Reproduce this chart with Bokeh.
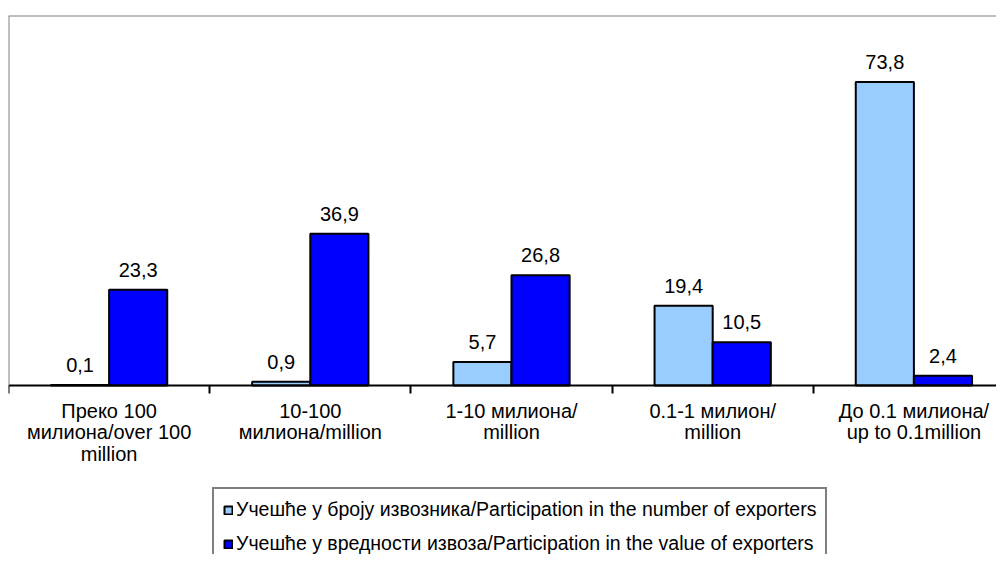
from bokeh.plotting import figure
from bokeh.models import (ColumnDataSource, Range1d, FixedTicker, Span, Legend,
                          LegendItem, LabelSet)
from bokeh.core.properties import value
from bokeh.embed import file_html
from bokeh.resources import INLINE

categories = ["Преко 100\nмилиона/over 100\nmillion",
              "10-100\nмилиона/million",
              "1-10 милиона/\nmillion",
              "0.1-1 милион/\nmillion",
              "До 0.1 милиона/\nup to 0.1million"]
share_count = [0.1, 0.9, 5.7, 19.4, 73.8]
share_value = [23.3, 36.9, 26.8, 10.5, 2.4]
series_names = ["Учешће у броју извозника/Participation in the number of exporters",
                "Учешће у вредности извоза/Participation in the value of exporters"]
colors = ["#99CCFF", "#0000FF"]
y_max = 90

FONT = "Liberation Sans"
n = len(categories)
centers = [i + 0.5 for i in range(n)]
bw = 0.289
W, H = 996, 554
TOP, BASE = 15, 385          # frame top and baseline (px)
unit = (BASE - TOP) / y_max  # px per %

def fmt(v):
    return f"{v:.1f}".replace(".", ",")

src1 = ColumnDataSource(dict(x=[c - bw / 2 for c in centers], y=share_count,
                             lab=[fmt(v) for v in share_count]))
src2 = ColumnDataSource(dict(x=[c + bw / 2 for c in centers], y=share_value,
                             lab=[fmt(v) for v in share_value]))

p = figure(width=W, height=H, x_range=Range1d(0, (W - 8) / 201.2),
           y_range=Range1d(-(H - BASE) / unit, y_max),
           output_backend="svg", toolbar_location=None, title=None,
           min_border_left=8, min_border_right=0, min_border_top=TOP, min_border_bottom=0)
p.outline_line_color = None
p.xgrid.visible = False
p.ygrid.visible = False

r1 = p.vbar(x="x", top="y", width=bw, source=src1, fill_color=colors[0],
            line_color="black", line_width=2)
r2 = p.vbar(x="x", top="y", width=bw, source=src2, fill_color=colors[1],
            line_color="black", line_width=2)

for s in (src1, src2):
    p.add_layout(LabelSet(x="x", y="y", text="lab", source=s, text_align="center",
                          text_baseline="middle", y_offset=20,
                          text_font=value(FONT), text_font_size="20px", text_color="black"))

p.add_layout(Span(location=y_max, dimension="width", line_color="#808080", line_width=2))

# left frame line as a y axis bounded to the plotted range
ya = p.yaxis[0]
ya.fixed_location = 0
ya.bounds = (0, y_max)
ya.ticker = FixedTicker(ticks=[])
ya.major_tick_out = 0
ya.major_tick_in = 0
ya.minor_tick_out = 0
ya.minor_tick_in = 0
ya.major_label_text_font_size = "0px"
ya.axis_line_color = "#808080"
ya.axis_line_width = 2

ax = p.xaxis[0]
ax.fixed_location = 0
ax.ticker = FixedTicker(ticks=centers, minor_ticks=list(range(n + 1)))
ax.major_label_overrides = {c: lab for c, lab in zip(centers, categories)}
ax.major_tick_out = 0
ax.major_tick_in = 0
ax.minor_tick_out = 8
ax.minor_tick_in = 0
ax.minor_tick_line_color = "black"
ax.minor_tick_line_width = 2
ax.axis_line_color = "black"
ax.axis_line_width = 2
ax.major_label_standoff = 6
ax.major_label_text_font = FONT
ax.major_label_text_font_size = "20px"
ax.major_label_text_color = "black"
ax.major_label_text_line_height = 0.98
ax.major_label_orientation = "horizontal"

legend = Legend(items=[LegendItem(label=series_names[0], renderers=[r1]),
                       LegendItem(label=series_names[1], renderers=[r2])],
                location=(204, -12), orientation="vertical",
                glyph_width=10, glyph_height=10, label_height=20, label_standoff=3,
                spacing=11, padding=9, margin=0,
                label_text_font=FONT, label_text_font_size="19.5px", label_text_color="black",
                border_line_color="black", border_line_width=2,
                background_fill_color="white", background_fill_alpha=1.0)
p.add_layout(legend, "center")

open("out.html", "w").write(file_html(p, INLINE))
